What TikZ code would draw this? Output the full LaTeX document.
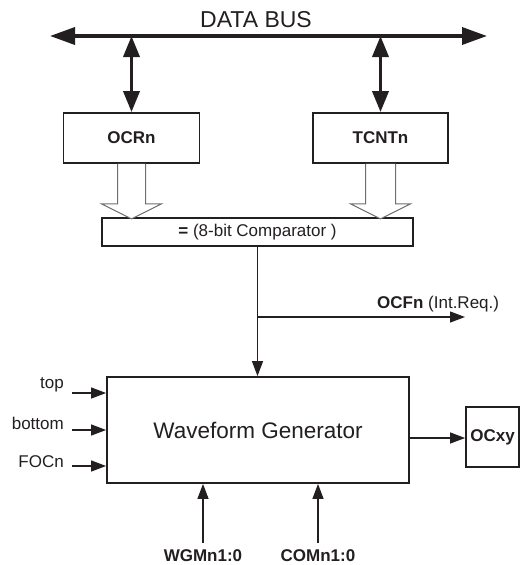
\documentclass[tikz,border=0pt]{standalone}
\usepackage{fontspec}
\setmainfont{Liberation Sans}
\usetikzlibrary{arrows.meta}
\definecolor{ink}{HTML}{231F20}
\definecolor{hollowgray}{HTML}{6D6E71}
\begin{document}
\begin{tikzpicture}[x=1pt,y=-1pt,
  box/.style={draw=ink,line width=1.8pt,fill=white,inner sep=0pt},
  lbl/.style={font=\fontsize{17}{19}\selectfont,text=ink,inner sep=0pt},
  blbl/.style={font=\fontsize{17}{19}\selectfont\bfseries,text=ink,inner sep=0pt},
  bigl/.style={font=\fontsize{23}{25}\selectfont,text=ink,inner sep=0pt},
  bus/.style={draw=ink,line width=3.6pt,{Triangle[length=25pt,width=17pt]}-{Triangle[length=25pt,width=17pt]}},
  dbl/.style={draw=ink,line width=3.6pt,{Triangle[length=21pt,width=16pt]}-{Triangle[length=21pt,width=16pt]}},
  thin/.style={draw=ink,line width=1.2pt,-{Triangle[length=15pt,width=11pt]}},
  hollow/.style={draw=hollowgray,line width=1pt,fill=white}
]
\useasboundingbox (0,0) rectangle (522,565);

% data bus
\coordinate (busL) at (50,36);
\coordinate (busR) at (487,36);
\draw[bus] (busL) -- (busR);
\node[bigl] (buslabel) at (256,20) {DATA BUS};

% registers
\node[box,minimum width=136pt,minimum height=50pt] (ocr) at (131.5,138) {};
\node[blbl] (ocrt) at (ocr.center) {OCRn};
\node[box,minimum width=135pt,minimum height=50pt] (tcnt) at (380.5,138) {};
\node[blbl] (tcntt) at (tcnt.center) {TCNTn};

\draw[dbl] (ocr.north |- busL) -- (ocr.north);
\draw[dbl] (tcnt.north |- busL) -- (tcnt.north);

% comparator
\node[box,minimum width=311pt,minimum height=28pt] (cmp) at (257.5,232)
  {\fontsize{17}{19}\selectfont\color{ink}\textbf{=} (8-bit Comparator )};

% hollow arrows
\draw[hollow,shift={(ocr.south)}] (-14,0) -- (-14,40) -- (-30,40) -- (0,55) -- (30,40) -- (14,40) -- (14,0);
\draw[hollow,shift={(tcnt.south)}] (-15,0) -- (-15,40) -- (-30,40) -- (0,55) -- (30,40) -- (15,40) -- (15,0);

% waveform generator
\node[box,minimum width=302pt,minimum height=106pt] (wg) at (258,430)
  {\fontsize{22.5}{25}\selectfont\color{ink}Waveform Generator};

\draw[thin] (cmp.south) -- (cmp.south |- wg.north);
\coordinate (ocfend) at (465,317);
\draw[thin] (cmp.south |- ocfend) -- (ocfend);
\node[anchor=base west,inner sep=0pt,text=ink] (ocflbl) at (377,308)
  {\fontsize{17}{19}\selectfont\textbf{OCFn} (Int.Req.)};

% output
\node[box,minimum width=53pt,minimum height=60pt] (ocxy) at (492.5,437) {};
\node[blbl] (ocxyt) at (ocxy.center) {OCxy};
\draw[thin] (wg.east |- 0,438) -- (ocxy.west |- 0,438);

% left inputs
\node[lbl,anchor=east] (ltop) at (64,385) {top};
\node[lbl,anchor=east] (lbot) at (64,423) {bottom};
\node[lbl,anchor=east] (lfoc) at (64,462) {FOCn};
\coordinate (itop) at (72,393);
\coordinate (ibot) at (72,430);
\coordinate (ifoc) at (72,466);
\draw[thin] (itop) -- (itop -| wg.west);
\draw[thin] (ibot) -- (ibot -| wg.west);
\draw[thin] (ifoc) -- (ifoc -| wg.west);

% bottom inputs
\node[blbl] (wgm) at (203,556) {WGMn1:0};
\node[blbl] (com) at (318,556) {COMn1:0};
\coordinate (iwgm) at (203,543);
\coordinate (icom) at (318,543);
\draw[thin] (iwgm) -- (iwgm |- wg.south);
\draw[thin] (icom) -- (icom |- wg.south);
\end{tikzpicture}
\end{document}
